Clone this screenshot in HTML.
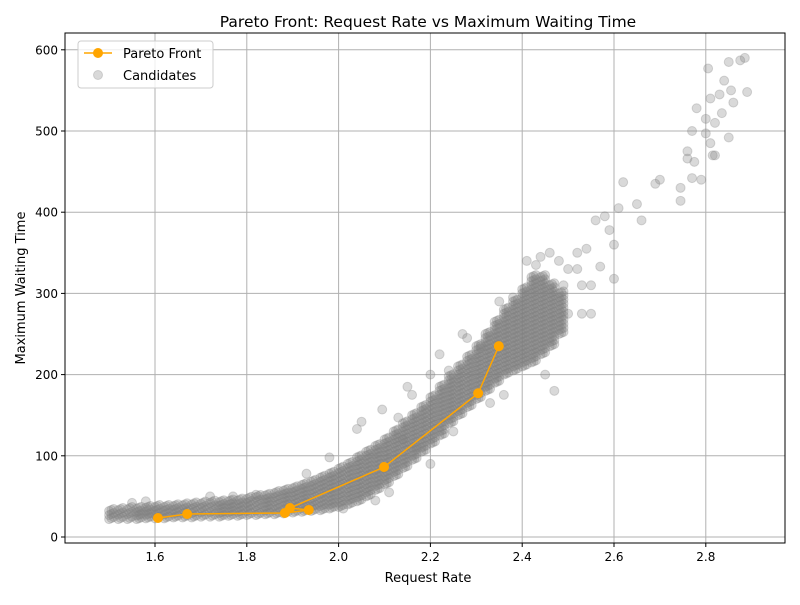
<!DOCTYPE html>
<html><head><meta charset="utf-8"><style>
body{margin:0;background:#fff;font-family:"Liberation Sans","DejaVu Sans",sans-serif}
svg text{font-family:"DejaVu Sans","Liberation Sans",sans-serif;fill:#000}
</style></head><body>
<svg id="chart" width="800" height="600" xmlns="http://www.w3.org/2000/svg">
<rect width="800" height="600" fill="#fff"/>
<text x="428" y="27" font-size="15.5" text-anchor="middle">Pareto Front: Request Rate vs Maximum Waiting Time</text>
<g id="grid"></g>
<g id="cands"></g>
<g id="pareto"></g>
<rect x="65" y="33" width="720" height="510" fill="none" stroke="#000" stroke-width="1"/>
<g id="axes"></g>
<text x="428" y="582" font-size="13" text-anchor="middle">Request Rate</text>
<text transform="translate(25,288) rotate(-90)" font-size="13" text-anchor="middle">Maximum Waiting Time</text>
<g>
<rect x="78" y="41" width="135" height="47" rx="3" fill="#fff" fill-opacity="0.8" stroke="#ccc"/>
<line x1="84" y1="53" x2="112" y2="53" stroke="orange" stroke-width="1.5"/>
<circle cx="98" cy="53" r="5" fill="orange"/>
<text x="123" y="58" font-size="13">Pareto Front</text>
<circle cx="98" cy="75" r="4.5" fill="gray" fill-opacity="0.3" stroke="gray" stroke-opacity="0.3"/>
<text x="123" y="80" font-size="13">Candidates</text>
</g>
</svg>
<script>
const xTicks=[1.6,1.8,2.0,2.2,2.4,2.6,2.8];
const xTickLabels=["1.6","1.8","2.0","2.2","2.4","2.6","2.8"];
const yTicks=[0,100,200,300,400,500,600];
const yTickLabels=["0","100","200","300","400","500","600"];
const paretoX=[1.6065,1.670,1.883,1.935,1.894,2.099,2.304,2.349];
const paretoY=[23.4,28.3,29.6,33.3,35.7,86.2,177,235];
const bandX=[1.50,1.52,1.54,1.56,1.58,1.60,1.62,1.64,1.66,1.68,1.70,1.72,1.74,1.76,1.78,1.80,1.82,1.84,1.86,1.88,1.90,1.92,1.94,1.96,1.98,2.00,2.02,2.04,2.06,2.08,2.10,2.12,2.14,2.16,2.18,2.20,2.22,2.24,2.26,2.28,2.30,2.32,2.34,2.36,2.38,2.40,2.42,2.44,2.46,2.48];
const bandLow=[22,22,22,22,23,23,23,24,24,24,25,25,25,26,26,27,27,28,28,29,30,31,32,33,35,37,40,44,50,58,65,75,85,95,105,115,125,140,150,160,170,180,190,200,205,210,215,225,235,250];
const bandHigh=[32,33,34,35,36,37,37,38,39,40,41,42,43,44,45,47,49,51,54,57,60,64,68,73,78,84,90,98,105,112,120,130,140,150,160,172,185,198,210,222,235,250,265,280,290,305,320,320,310,300];
const outX=[1.55,1.58,1.72,1.77,1.82,1.93,1.98,2.05,2.04,2.095,2.13,2.15,2.16,2.14,2.17,2.2,2.2,2.22,2.24,2.25,2.27,2.28,2.31,2.33,2.35,2.36,2.38,2.41,2.43,2.44,2.47,2.45,2.5,2.53,2.5,2.49,2.11,2.08,2.01,2.52,2.53,2.54,2.55,2.57,2.56,2.58,2.59,2.60,2.61,2.60,2.62,2.65,2.66,2.69,2.70,2.745,2.745,2.76,2.77,2.775,2.78,2.77,2.79,2.80,2.805,2.81,2.815,2.82,2.83,2.835,2.84,2.85,2.855,2.86,2.875,2.885,2.89,2.85,2.82,2.81,2.80,2.76,2.55,2.52,2.48,2.46];
const outY=[42,44,50,50,52,78,98,142,133,157,147,185,175,120,110,90,200,225,205,130,250,245,235,165,290,175,295,340,335,345,180,200,275,275,330,310,55,45,35,350,310,355,310,333,390,395,378,360,405,318,437,410,390,435,440,430,414,475,500,462,528,442,440,515,577,540,470,510,545,522,562,492,550,535,587,590,548,585,470,485,497,466,275,330,340,350];

const NS="http://www.w3.org/2000/svg";
const sx=v=>155+(v-1.6)*459;
const sy=v=>537-v*0.812;
function mk(tag,attrs,parent){const e=document.createElementNS(NS,tag);for(const k in attrs)e.setAttribute(k,attrs[k]);parent.appendChild(e);return e;}
const grid=document.getElementById('grid'),axes=document.getElementById('axes');
xTicks.forEach((t,i)=>{
  const g=mk('line',{x1:sx(t),x2:sx(t),y1:33,y2:543,stroke:'#b0b0b0','stroke-width':1},grid);
  
  
  mk('line',{x1:sx(t),x2:sx(t),y1:543,y2:547,stroke:'#000'},axes);
  const tx=mk('text',{x:sx(t),y:561,'font-size':12,'text-anchor':'middle'},axes);
  tx.textContent=xTickLabels[i];
  
  
});
yTicks.forEach((t,i)=>{
  const g=mk('line',{x1:65,x2:785,y1:sy(t),y2:sy(t),stroke:'#b0b0b0','stroke-width':1},grid);
  
  
  mk('line',{x1:61,x2:65,y1:sy(t),y2:sy(t),stroke:'#000'},axes);
  const tx=mk('text',{x:58,y:sy(t)+4.5,'font-size':12,'text-anchor':'end'},axes);
  tx.textContent=yTickLabels[i];
  
  
});
const cands=document.getElementById('cands');
function dot(x,y){
  const c=mk('circle',{cx:sx(x),cy:sy(y),r:4.5,fill:'gray','fill-opacity':0.3,stroke:'gray','stroke-opacity':0.3},cands);
  
  
}
bandX.forEach((x,i)=>{
  const lo=bandLow[i],hi=bandHigh[i];
  const n=Math.max(2,Math.round((hi-lo)/5));
  for(let k=0;k<=n;k++){
    const y=lo+(hi-lo)*k/n;
    dot(x,y);
    dot(x+0.01,y+(hi-lo)/(2*n));
    dot(x+0.005,y+(hi-lo)/(4*n));
  }
});
outX.forEach((x,i)=>dot(x,outY[i]));
const par=document.getElementById('pareto');
const pl=mk('polyline',{points:paretoX.map((x,i)=>sx(x)+','+sy(paretoY[i])).join(' '),fill:'none',stroke:'orange','stroke-width':1.5},par);


paretoX.forEach((x,i)=>{
  const c=mk('circle',{cx:sx(x),cy:sy(paretoY[i]),r:5,fill:'orange'},par);
  
  
});
</script>
</body></html>
